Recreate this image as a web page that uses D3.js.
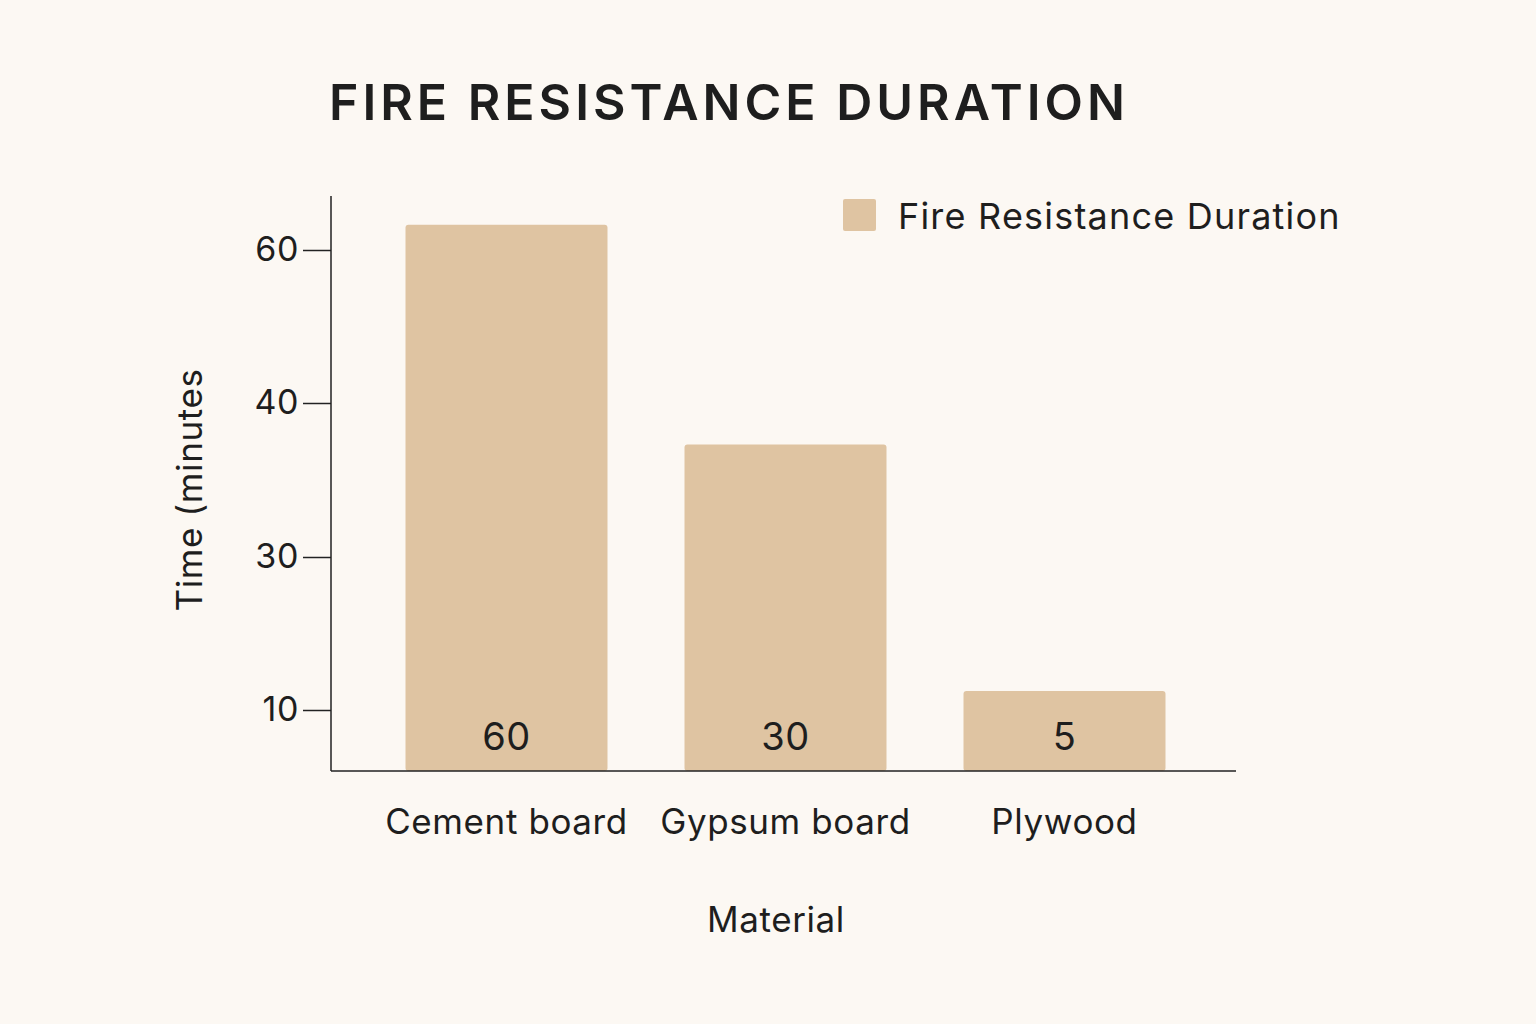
<!DOCTYPE html>
<head>
  <title>Fire Resistance Duration</title>
  <style>
    body { margin: 0; background: #fcf8f3; }
    text { font-family: Inter, "Noto Sans", sans-serif; fill: #1e1e1e; letter-spacing: 0.6px; }
  </style>
</head>
<body>
  <script src="https://cdn.jsdelivr.net/npm/d3@7/dist/d3.min.js"></script>
  <script>
    // data
    var materials = ["Cement board", "Gypsum board", "Plywood"];
    var barHeights = [63.3, 37.3, 12.5];   // drawn height on the chart's axis
    var barLabels = ["60", "30", "5"];     // printed value inside bar
    var tickValues = [10, 30, 40, 60];

    var svg = d3.select("body").append("svg")
        .attr("width", 1536)
        .attr("height", 1024);

    svg.append("rect").attr("width", 1536).attr("height", 1024).attr("fill", "#fcf8f3");

    // axis ticks are evenly spaced even though values are not
    var y = d3.scaleLinear().domain(tickValues).range([710, 557, 403, 250]);
    var x = d3.scaleBand().domain(materials).range([367, 1204])
        .paddingInner(0.276).paddingOuter(0.138);
    var base = 771;

    svg.append("text")
        .attr("x", 329).attr("y", 120)
        .style("font-size", "50px").style("font-weight", "600")
        .style("letter-spacing", "4px")
        .text("FIRE RESISTANCE DURATION");

    svg.selectAll(".bar").data(materials).enter().append("rect")
        .attr("x", function(d){ return x(d); })
        .attr("y", function(d, i){ return y(barHeights[i]); })
        .attr("width", x.bandwidth())
        .attr("height", function(d, i){ return base - y(barHeights[i]); })
        .attr("rx", 3)
        .attr("fill", "#dfc4a2");

    svg.selectAll(".lbl").data(materials).enter().append("text")
        .attr("x", function(d){ return x(d) + x.bandwidth() / 2; })
        .attr("y", 750)
        .attr("text-anchor", "middle")
        .style("font-size", "38px")
        .text(function(d, i){ return barLabels[i]; });

    // y axis
    var yAxis = svg.append("g").attr("transform", "translate(331,0)")
        .call(d3.axisLeft(y).tickValues(tickValues).tickSize(28).tickPadding(4));
    yAxis.select(".domain").remove();
    yAxis.selectAll(".tick line").attr("stroke", "#222").attr("stroke-width", 1.5);
    yAxis.selectAll("text").style("font-size", "34px").attr("fill", "#1e1e1e");
    svg.append("line").attr("x1", 331).attr("x2", 331).attr("y1", 196).attr("y2", base)
        .attr("stroke", "#222").attr("stroke-width", 1.5);

    // x axis
    svg.append("line").attr("x1", 331).attr("x2", 1236).attr("y1", base).attr("y2", base)
        .attr("stroke", "#222").attr("stroke-width", 1.5);
    svg.selectAll(".xl").data(materials).enter().append("text")
        .attr("x", function(d){ return x(d) + x.bandwidth() / 2; })
        .attr("y", 834)
        .attr("text-anchor", "middle")
        .style("font-size", "35px")
        .text(function(d){ return d; });

    svg.append("text")
        .attr("x", 776).attr("y", 932)
        .attr("text-anchor", "middle")
        .style("font-size", "35px")
        .text("Material");

    svg.append("text")
        .attr("transform", "translate(202,490) rotate(-90)")
        .attr("text-anchor", "middle")
        .style("font-size", "35px")
        .text("Time (minutes");

    // legend
    svg.append("rect").attr("x", 843).attr("y", 199).attr("width", 33).attr("height", 32)
        .attr("rx", 2).attr("fill", "#dfc4a2");
    svg.append("text").attr("x", 898).attr("y", 229)
        .style("font-size", "36px").style("letter-spacing", "1.2px")
        .text("Fire Resistance Duration");
  </script>
</body>
